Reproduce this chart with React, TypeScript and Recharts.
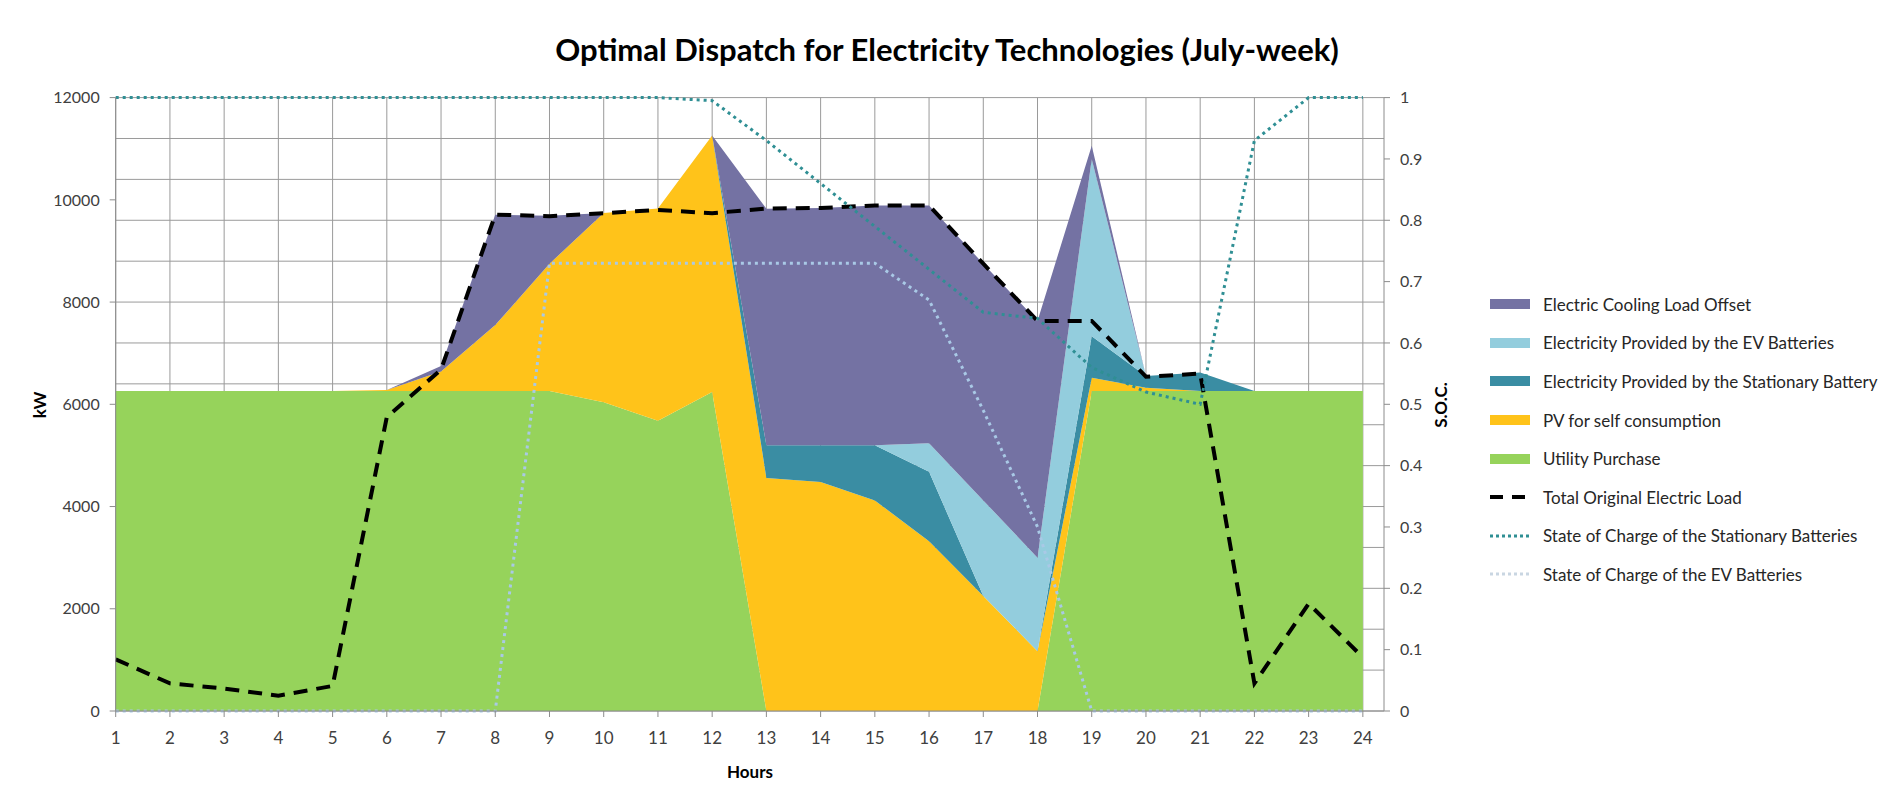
import React from "react"
import { Area, CartesianGrid, ComposedChart, Line, XAxis, YAxis } from "recharts"

// hours of the representative July day
const hours = [1, 2, 3, 4, 5, 6, 7, 8, 9, 10, 11, 12, 13, 14, 15, 16, 17, 18, 19, 20, 21, 22, 23, 24]

// stacked dispatch (kW), bottom to top
const utilityPurchase = [6260, 6260, 6260, 6260, 6260, 6260, 6260, 6260, 6260, 6040, 5680, 6240, 0, 0, 0, 0, 0, 0, 6260, 6260, 6260, 6260, 6260, 6260]
const pvSelf = [0, 0, 0, 0, 0, 20, 380, 1290, 2490, 3700, 4150, 5020, 4560, 4480, 4120, 3320, 2250, 1170, 260, 65, 0, 0, 0, 0]
const stationaryBattery = [0, 0, 0, 0, 0, 0, 0, 0, 0, 0, 0, 0, 640, 720, 1080, 1360, 0, 0, 810, 230, 360, 0, 0, 0]
const evBatteries = [0, 0, 0, 0, 0, 0, 0, 0, 0, 0, 0, 0, 0, 0, 0, 560, 1870, 1830, 3470, 0, 0, 0, 0, 0]
const coolingOffset = [0, 0, 0, 0, 0, 0, 110, 2160, 940, 0, 0, 0, 4625, 4640, 4690, 4650, 4630, 4630, 260, 0, 0, 0, 0, 0]

// lines
const originalLoad = [1010, 540, 440, 300, 490, 5750, 6680, 9710, 9680, 9740, 9800, 9740, 9830, 9840, 9890, 9890, 8750, 7630, 7630, 6540, 6600, 540, 2100, 1050]
const socStationary = [1, 1, 1, 1, 1, 1, 1, 1, 1, 1, 1, 0.995, 0.93, 0.86, 0.79, 0.72, 0.65, 0.64, 0.56, 0.52, 0.5, 0.93, 1, 1]
const socEV = [0, 0, 0, 0, 0, 0, 0, 0, 0.73, 0.73, 0.73, 0.73, 0.73, 0.73, 0.73, 0.67, 0.49, 0.3, 0, 0, 0, 0, 0, 0]

// axis ticks
const kwTicks = [0, 2000, 4000, 6000, 8000, 10000, 12000]
const socTicks = [0, 0.1, 0.2, 0.3, 0.4, 0.5, 0.6, 0.7, 0.8, 0.9, 1]

const data = hours.map((h, i) => ({
  hour: h,
  utility: utilityPurchase[i],
  pv: pvSelf[i],
  stationary: stationaryBattery[i],
  ev: evBatteries[i],
  cooling: coolingOffset[i],
  load: originalLoad[i],
  socStat: socStationary[i],
  socEv: socEV[i],
}))

const gridKw = Array.from({ length: 31 }, (_, i) => i * 400)

const C = {
  cooling: "#7472a3",
  ev: "#93cddd",
  stationary: "#3a8da3",
  pv: "#ffc31a",
  utility: "#96d35b",
  socStat: "#2f8f94",
  socEv: "#a9c9e6",
}

const FONT = "Lato, 'Open Sans', sans-serif"

const legendItems = [
  { label: "Electric Cooling Load Offset", kind: "area", color: C.cooling },
  { label: "Electricity Provided by the EV Batteries", kind: "area", color: C.ev },
  { label: "Electricity Provided by the Stationary Battery", kind: "area", color: C.stationary },
  { label: "PV for self consumption", kind: "area", color: C.pv },
  { label: "Utility Purchase", kind: "area", color: C.utility },
  { label: "Total Original Electric Load", kind: "dash", color: "#000" },
  { label: "State of Charge of the Stationary Batteries", kind: "dot", color: C.socStat },
  { label: "State of Charge of the EV Batteries", kind: "dot", color: "#c9d6e2" },
]

function LegendBox() {
  return (
    <div style={{ position: "absolute", left: 1482, top: 277, fontFamily: FONT, fontSize: 17, color: "#262626" }}>
      {legendItems.map((it) => (
        <div key={it.label} style={{ display: "flex", alignItems: "center", height: 38.6, whiteSpace: "nowrap" }}>
          <svg width={40} height={12} style={{ marginRight: 13, flex: "none" }}>
            {it.kind === "area" && <rect x={0} y={1} width={40} height={10} fill={it.color} />}
            {it.kind === "dash" && <line x1={0} y1={6} x2={40} y2={6} stroke={it.color} strokeWidth={4} strokeDasharray="13 9" />}
            {it.kind === "dot" && <line x1={0} y1={6} x2={40} y2={6} stroke={it.color} strokeWidth={3} strokeDasharray="3 3" />}
          </svg>
          <span>{it.label}</span>
        </div>
      ))}
    </div>
  )
}

export default function App() {
  return (
    <div style={{ position: "relative", width: 1874, height: 790, fontFamily: FONT }}>
      <div style={{ position: "absolute", left: 0, width: 1878, top: 22, textAlign: "center", fontSize: 31, fontWeight: 700, color: "#000" }}>
        Optimal Dispatch for Electricity Technologies (July-week)
      </div>
      <ComposedChart width={1874} height={790} data={data} margin={{ top: 89.6, right: 438, bottom: 47, left: 47.7 }}>
        <CartesianGrid yAxisId="kw" xAxisId="h" stroke="#9a9a9a" horizontalValues={gridKw} verticalValues={hours} />
        <XAxis
          xAxisId="h"
          dataKey="hour"
          type="number"
          domain={[1, 24.39]}
          ticks={hours}
          height={40}
          stroke="#8c8c8c"
          tickSize={6}
          tickMargin={15}
          tick={{ fill: "#404040", fontSize: 17, fontFamily: FONT }}
        />
        <YAxis
          yAxisId="kw"
          domain={[0, 12000]}
          ticks={kwTicks}
          width={60}
          stroke="#8c8c8c"
          tickSize={6}
          tickMargin={10}
          tick={{ fill: "#404040", fontSize: 16, fontFamily: FONT }}
        />
        <YAxis
          yAxisId="soc"
          orientation="right"
          domain={[0, 1]}
          ticks={socTicks}
          width={60}
          stroke="#8c8c8c"
          tickSize={6}
          tickMargin={10}
          tickFormatter={(v: number) => `${+v.toFixed(1)}`}
          tick={{ fill: "#404040", fontSize: 16, fontFamily: FONT, textAnchor: "start" }}
        />
        <Area xAxisId="h" yAxisId="kw" type="linear" dataKey="utility" stackId="1" stroke="none" fill={C.utility} fillOpacity={1} isAnimationActive={false} />
        <Area xAxisId="h" yAxisId="kw" type="linear" dataKey="pv" stackId="1" stroke="none" fill={C.pv} fillOpacity={1} isAnimationActive={false} />
        <Area xAxisId="h" yAxisId="kw" type="linear" dataKey="stationary" stackId="1" stroke="none" fill={C.stationary} fillOpacity={1} isAnimationActive={false} />
        <Area xAxisId="h" yAxisId="kw" type="linear" dataKey="ev" stackId="1" stroke="none" fill={C.ev} fillOpacity={1} isAnimationActive={false} />
        <Area xAxisId="h" yAxisId="kw" type="linear" dataKey="cooling" stackId="1" stroke="none" fill={C.cooling} fillOpacity={1} isAnimationActive={false} />
        <Line xAxisId="h" yAxisId="kw" type="linear" dataKey="load" stroke="#000" strokeWidth={4} strokeDasharray="14 9" dot={false} activeDot={false} isAnimationActive={false} />
        <Line xAxisId="h" yAxisId="soc" type="linear" dataKey="socStat" stroke={C.socStat} strokeWidth={3} strokeDasharray="3 4" dot={false} activeDot={false} isAnimationActive={false} />
        <Line xAxisId="h" yAxisId="soc" type="linear" dataKey="socEv" stroke={C.socEv} strokeWidth={3} strokeDasharray="3 4" dot={false} activeDot={false} isAnimationActive={false} />
      </ComposedChart>
      <div style={{ position: "absolute", left: 31, top: 397, transform: "translate(-50%, -50%) rotate(-90deg)", fontWeight: 700, fontSize: 17 }}>kW</div>
      <div style={{ position: "absolute", left: 1432, top: 397, transform: "translate(-50%, -50%) rotate(-90deg)", fontWeight: 700, fontSize: 17 }}>S.O.C.</div>
      <div style={{ position: "absolute", left: 742, top: 763, transform: "translate(-50%, -50%)", fontWeight: 700, fontSize: 17 }}>Hours</div>
      <LegendBox />
    </div>
  )
}
